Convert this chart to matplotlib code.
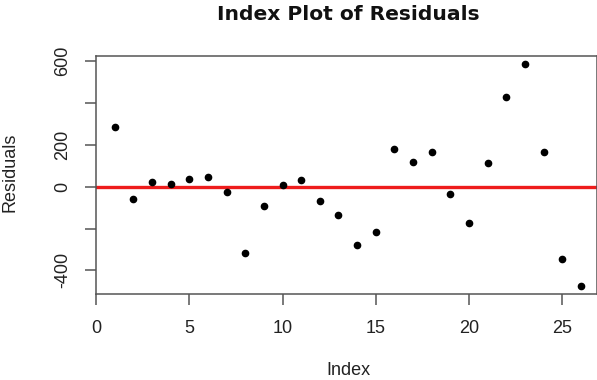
import matplotlib
matplotlib.use("Agg")
import matplotlib.pyplot as plt

plt.rcParams['font.family'] = ['Liberation Sans', 'DejaVu Sans']

index = list(range(1, 27))
residuals = [285, -57, 21, 11, 37, 46, -27, -315, -94, 6, 32, -67, -134,
             -280, -218, 182, 119, 166, -36, -172, 113, 430, 586, 166, -347, -473]
x_ticks = [0, 5, 10, 15, 20, 25]
y_ticks = [-400, -200, 0, 200, 400, 600]
y_tick_labels = ['-400', '', '0', '200', '', '600']

W, H = 597, 380
fig = plt.figure(figsize=(W / 100, H / 100), dpi=100)
ax = fig.add_axes([96 / W, (H - 294) / H, 501 / W, 238 / H])

ax.plot(index, residuals, 'o', color='black', markersize=4.5, zorder=3)
ax.axhline(0, color='#ee1c1c', linewidth=2.4, zorder=2)

ax.set_xlim(0, 26.86)
ax.set_ylim(-512.7, 624.5)
ax.set_xticks(x_ticks)
ax.set_xticklabels([str(t) for t in x_ticks])
ax.set_yticks(y_ticks)
ax.set_yticklabels(y_tick_labels, rotation=90, va='center')

for s in ax.spines.values():
    s.set_color('#555555')
    s.set_linewidth(1.1)
ax.tick_params(axis='both', color='#555555', width=1.1, length=8,
               labelsize=13, labelcolor='#222222')
ax.tick_params(axis='x', pad=11)
ax.tick_params(axis='y', pad=10)

fig.text(348 / W, 1 - 20 / H, 'Index Plot of Residuals', ha='center',
         va='baseline', fontsize=14.6, fontweight='bold', color='#111111',
         family=['DejaVu Sans'])
fig.text(348 / W, 1 - 375 / H, 'Index', ha='center', va='baseline',
         fontsize=13, color='#222222')
fig.text(10 / W, 1 - 172 / H, 'Residuals', ha='center', va='center',
         rotation=90, fontsize=13, color='#222222')

fig.savefig('out.png', dpi=100)
